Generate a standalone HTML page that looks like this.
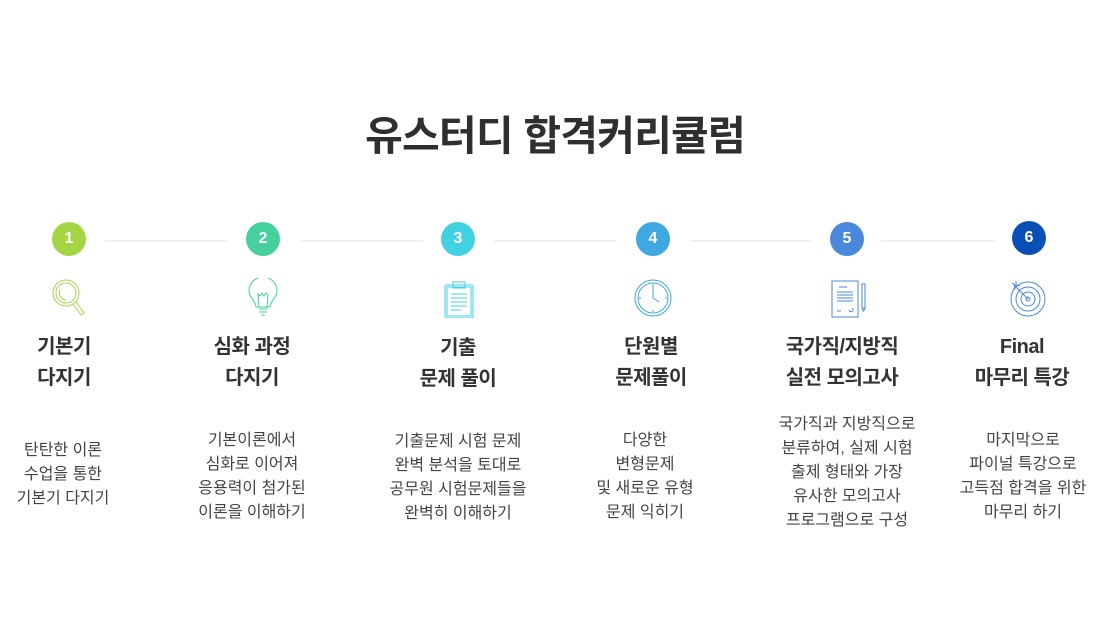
<!DOCTYPE html>
<html><head><meta charset="utf-8"><style>
body{margin:0;width:1100px;height:621px;background:#fff;position:relative;overflow:hidden;font-family:"Liberation Sans","Noto Sans CJK KR",sans-serif;color:#333}
.t{position:absolute;top:102px;left:0;width:1110px;text-align:center;font-size:41px;font-weight:bold;color:#2f2f2f;letter-spacing:-0.8px}
.c{position:absolute;width:34px;height:34px;border-radius:50%;color:#fff;font-weight:bold;font-size:16px;line-height:34px;text-align:center;top:222px}
.l{position:absolute;top:240px;height:2px;background:#f0f0f0}
.ic{position:absolute;top:278px;width:40px;height:40px}
.h{position:absolute;width:200px;text-align:center;font-size:20px;font-weight:bold;line-height:31px;top:332px;letter-spacing:-0.5px}
.d{position:absolute;width:200px;text-align:center;font-size:16px;line-height:24px;color:#444}
</style></head><body>
<div class="t">유스터디 합격커리큘럼</div>
<div class="l" style="left:105px;width:123px"></div>
<div class="l" style="left:300px;width:123px"></div>
<div class="l" style="left:494px;width:123px"></div>
<div class="l" style="left:690px;width:122px"></div>
<div class="l" style="left:881px;width:114px"></div>
<div class="c" style="left:52px;background:#a3d544">1</div>
<div class="c" style="left:246px;background:#45d09e">2</div>
<div class="c" style="left:441px;background:#40d2e0">3</div>
<div class="c" style="left:636px;background:#3fa8e0">4</div>
<div class="c" style="left:830px;background:#4a88dc">5</div>
<div class="c" style="left:1012px;top:221px;background:#0a4fb5">6</div>

<svg class="ic" style="left:48px" viewBox="0 0 40 40" fill="none" stroke="#a3d544" stroke-width="1"><circle cx="18" cy="15" r="13"/><circle cx="18" cy="15" r="10"/><path d="M12 12a7 7 0 0 0 6 10"/><path d="M25 26l8 11 3-2-8-11"/></svg>
<svg class="ic" style="left:243px" viewBox="0 0 40 40" fill="none" stroke="#45d09e" stroke-width="1"><path d="M13 29c0-6-7-9-7-16a14 14 0 0 1 28 0c0 7-7 10-7 16z"/><path d="M16 29l-1-13 2 2 2-3 2 3 2-3 2 2-1 13"/><path d="M16 31h8M16 34h8M18 37h4"/></svg>
<svg class="ic" style="left:438px" viewBox="0 0 40 40" fill="none" stroke="#40d2e0" stroke-width="1"><rect x="7" y="7" width="28" height="33" rx="2"/><rect x="9" y="9" width="24" height="29"/><rect x="15" y="4" width="12" height="6"/><path d="M13 16h16M13 20h16M13 24h16M13 28h16M13 32h10"/></svg>
<svg class="ic" style="left:633px" viewBox="0 0 40 40" fill="none" stroke="#3fa8e0" stroke-width="1"><circle cx="20" cy="20" r="18"/><circle cx="20" cy="20" r="15"/><path d="M20 8v12l6 4M20 6v2M20 32v2M6 20h2M32 20h2"/></svg>
<svg class="ic" style="left:829px" viewBox="0 0 40 40" fill="none" stroke="#4a88dc" stroke-width="1"><rect x="3" y="3" width="26" height="36"/><path d="M10 9h8M8 14h16M8 17h16M8 20h16M8 23h16M8 33h4M20 32a2 2 0 1 0 3-2"/><path d="M33 6v24h3V6zM33 30l1.5 3 1.5-3"/></svg>
<svg class="ic" style="left:1008px" viewBox="0 0 40 40" fill="none" stroke="#4a88dc" stroke-width="1"><circle cx="20" cy="21" r="17"/><circle cx="20" cy="21" r="12"/><circle cx="20" cy="21" r="7"/><circle cx="20" cy="21" r="2"/><path d="M20 21L6 7M4 5l3 2-1 4M8 3l0 4 4 1"/></svg>

<div class="h" style="left:-36px">기본기<br>다지기</div>
<div class="h" style="left:152px">심화 과정<br>다지기</div>
<div class="h" style="left:358px;top:333px">기출<br>문제 풀이</div>
<div class="h" style="left:551px">단원별<br>문제풀이</div>
<div class="h" style="left:742px">국가직/지방직<br>실전 모의고사</div>
<div class="h" style="left:922px">Final<br>마무리 특강</div>

<div class="d" style="left:-37px;top:439px">탄탄한 이론<br>수업을 통한<br>기본기 다지기</div>
<div class="d" style="left:152px;top:429px">기본이론에서<br>심화로 이어져<br>응용력이 첨가된<br>이론을 이해하기</div>
<div class="d" style="left:358px;top:430px">기출문제 시험 문제<br>완벽 분석을 토대로<br>공무원 시험문제들을<br>완벽히 이해하기</div>
<div class="d" style="left:545px;top:429px">다양한<br>변형문제<br>및 새로운 유형<br>문제 익히기</div>
<div class="d" style="left:747px;top:413px">국가직과 지방직으로<br>분류하여, 실제 시험<br>출제 형태와 가장<br>유사한 모의고사<br>프로그램으로 구성</div>
<div class="d" style="left:923px;top:429px">마지막으로<br>파이널 특강으로<br>고득점 합격을 위한<br>마무리 하기</div>
</body></html>
